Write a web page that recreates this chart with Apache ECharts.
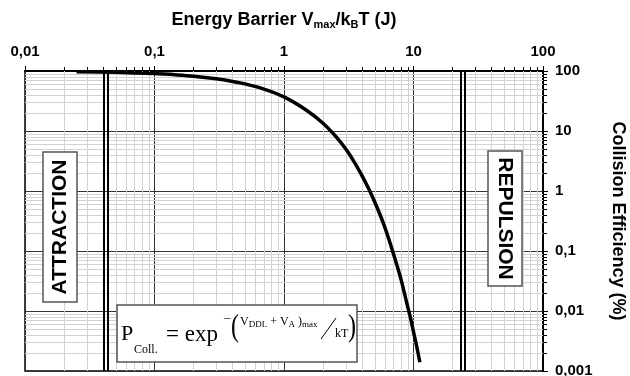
<!DOCTYPE html>
<html>
<head>
<meta charset="utf-8">
<script src="https://cdn.jsdelivr.net/npm/echarts@6/dist/echarts.min.js"></script>
<style>
  html, body { margin: 0; padding: 0; background: #fff; }
  #chart { width: 630px; height: 376px; }
</style>
</head>
<body>
<div id="chart"></div>
<script>
// energy barrier (x, log) vs collision efficiency in % (y, log)
var energyBarrier = [0.025, 0.05, 0.1, 0.15, 0.2, 0.3, 0.4, 0.5, 0.7, 1, 1.5, 2, 2.5, 3, 3.5, 4, 4.5,
  5, 5.5, 6, 6.5, 7, 7.5, 8, 8.5, 9, 9.5, 10, 10.5, 11.2];
var collisionEff = [97.5, 95, 90.5, 86, 82, 74, 67, 61, 50, 37, 22, 13.5, 8.2, 5, 3, 1.8, 1.1,
  0.67, 0.41, 0.25, 0.15, 0.09, 0.055, 0.034, 0.02, 0.012, 0.0075, 0.0045, 0.0028, 0.0014];

// the two triple barrier lines (attraction / repulsion limits)
var barrierX = [0.042, 24];

var xTickLabels = ['0,01', '0,1', '1', '10', '100'];
var yTickLabels = ['0,001', '0,01', '0,1', '1', '10', '100'];

// minor grid positions 2..9 inside each decade
function minorValues(fromExp, toExp) {
  var out = [];
  for (var e = fromExp; e < toExp; e++) {
    for (var k = 2; k <= 9; k++) out.push(k * Math.pow(10, e));
  }
  return out;
}
var xMinor = minorValues(-2, 2);
var yMinor = minorValues(-3, 2);

function tickLabel(list, minExp) {
  return function (v) {
    var i = Math.round(Math.log10(v)) - minExp;
    return list[i] !== undefined ? list[i] : '';
  };
}

var chart = echarts.init(document.getElementById('chart'), null, { renderer: 'canvas' });

var axisFont = { fontFamily: 'Liberation Sans', fontWeight: 'bold', fontSize: 15, color: '#000' };

var option = {
  animation: false,
  backgroundColor: '#fff',
  grid: {
    left: 25, right: 87, top: 71, bottom: 5,
    containLabel: false, outerBoundsMode: 'none',
    show: true, borderColor: '#000', borderWidth: 1.5
  },
  xAxis: {
    type: 'log', logBase: 10, position: 'top', min: 0.01, max: 100,
    name: 'Energy Barrier V{sub|max}/k{sub|B}T (J)',
    nameLocation: 'middle', nameGap: 41,
    nameTextStyle: {
      fontFamily: 'Liberation Sans', fontWeight: 'bold', fontSize: 18, color: '#000',
      rich: { sub: { fontFamily: 'Liberation Sans', fontWeight: 'bold', fontSize: 11, padding: [9, 0, 0, 0] } }
    },
    axisLine: { show: true, onZero: false, lineStyle: { color: '#000', width: 2 } },
    axisTick: { show: true, inside: false, length: 5, lineStyle: { color: '#000', width: 1 } },
    axisLabel: Object.assign({ margin: 12, formatter: tickLabel(xTickLabels, -2) }, axisFont),
    splitLine: { show: true, lineStyle: { color: '#333', width: 1 } }
  },
  yAxis: {
    type: 'log', logBase: 10, position: 'right', min: 0.001, max: 100,
    name: 'Collision Efficiency (%)',
    nameLocation: 'middle', nameGap: 66, nameRotate: -90,
    nameTextStyle: { fontFamily: 'Liberation Sans', fontWeight: 'bold', fontSize: 18, color: '#000' },
    axisLine: { show: true, onZero: false, lineStyle: { color: '#000', width: 2 } },
    axisTick: { show: true, inside: false, length: 5, lineStyle: { color: '#000', width: 1 } },
    axisLabel: Object.assign({ margin: 12, formatter: tickLabel(yTickLabels, -3) }, axisFont),
    splitLine: { show: true, lineStyle: { color: '#333', width: 1 } }
  },
  series: [
    {
      // vertical minor gridlines + outward minor ticks on the top axis
      type: 'custom', z: 1, clip: false, silent: true,
      data: xMinor.map(function (v) { return [v, 1]; }),
      renderItem: function (params, api) {
        var p = api.coord([api.value(0), 1]);
        var cs = params.coordSys;
        var x = Math.round(p[0]) + 0.5;
        return { type: 'group', children: [
          { type: 'line', shape: { x1: x, y1: cs.y, x2: x, y2: cs.y + cs.height }, style: { stroke: '#d2d2d2', lineWidth: 1 } },
          { type: 'line', shape: { x1: x, y1: cs.y - 4, x2: x, y2: cs.y }, style: { stroke: '#000', lineWidth: 1 } }
        ] };
      }
    },
    {
      // horizontal minor gridlines + outward minor ticks on the right axis
      type: 'custom', z: 1, clip: false, silent: true,
      data: yMinor.map(function (v) { return [1, v]; }),
      renderItem: function (params, api) {
        var p = api.coord([1, api.value(1)]);
        var cs = params.coordSys;
        var y = Math.round(p[1]) + 0.5;
        return { type: 'group', children: [
          { type: 'line', shape: { x1: cs.x, y1: y, x2: cs.x + cs.width, y2: y }, style: { stroke: '#d2d2d2', lineWidth: 1 } },
          { type: 'line', shape: { x1: cs.x + cs.width, y1: y, x2: cs.x + cs.width + 4, y2: y }, style: { stroke: '#000', lineWidth: 1 } }
        ] };
      }
    },
    {
      // double vertical barrier lines
      type: 'custom', z: 3, clip: false, silent: true,
      data: barrierX.map(function (v) { return [v, 1]; }),
      renderItem: function (params, api) {
        var p = api.coord([api.value(0), 1]);
        var cs = params.coordSys;
        var x = Math.round(p[0]);
        return { type: 'group', children: [
          { type: 'line', shape: { x1: x - 2, y1: cs.y, x2: x - 2, y2: cs.y + cs.height }, style: { stroke: '#000', lineWidth: 2 } },
          { type: 'line', shape: { x1: x + 2, y1: cs.y, x2: x + 2, y2: cs.y + cs.height }, style: { stroke: '#000', lineWidth: 2 } }
        ] };
      }
    },
    {
      type: 'line', z: 5,
      data: energyBarrier.map(function (x, i) { return [x, collisionEff[i]]; }),
      smooth: 0.3, showSymbol: false, symbol: 'none',
      lineStyle: { color: '#000', width: 3.5 }
    }
  ],
  graphic: [
    // ATTRACTION box
    { type: 'rect', z: 50, shape: { x: 43, y: 152, width: 34, height: 150 },
      style: { fill: '#fff', stroke: '#555', lineWidth: 1.5 } },
    { type: 'text', z: 51, x: 60, y: 227, rotation: Math.PI / 2,
      style: { text: 'ATTRACTION', font: 'bold 21px "Liberation Sans"', fill: '#000', align: 'center', verticalAlign: 'middle' } },
    // REPULSION box
    { type: 'rect', z: 50, shape: { x: 488, y: 151, width: 34, height: 135 },
      style: { fill: '#fff', stroke: '#555', lineWidth: 1.5 } },
    { type: 'text', z: 51, x: 505, y: 218.5, rotation: -Math.PI / 2,
      style: { text: 'REPULSION', font: 'bold 21px "Liberation Sans"', fill: '#000', align: 'center', verticalAlign: 'middle' } },
    // formula box
    { type: 'rect', z: 50, shape: { x: 117, y: 305, width: 240, height: 57 },
      style: { fill: '#fff', stroke: '#555', lineWidth: 1.5 } },
    { type: 'text', z: 51, x: 121, y: 334.5,
      style: { text: 'P', font: '22px "Liberation Serif"', fill: '#000', verticalAlign: 'middle' } },
    { type: 'text', z: 51, x: 134, y: 350,
      style: { text: 'Coll.', font: '12px "Liberation Serif"', fill: '#000', verticalAlign: 'middle' } },
    { type: 'text', z: 51, x: 166, y: 335,
      style: { text: '= exp', font: '23px "Liberation Serif"', fill: '#000', verticalAlign: 'middle' } },
    { type: 'text', z: 51, x: 224, y: 318,
      style: { text: '\u2013', font: '13px "Liberation Serif"', fill: '#000', verticalAlign: 'middle' } },
    { type: 'text', z: 51, x: 231, y: 327.5, scaleX: 0.75,
      style: { text: '(', font: '32px "Liberation Serif"', fill: '#000', verticalAlign: 'middle' } },
    { type: 'text', z: 51, x: 240, y: 322,
      style: {
        text: 'V{s|DDL} + V{s|A} ){s|max}', font: '12px "Liberation Serif"', fill: '#000', verticalAlign: 'middle',
        rich: { s: { font: '9px "Liberation Serif"', fill: '#000', padding: [6, 0, 0, 0] } }
      } },
    { type: 'line', z: 51, shape: { x1: 321, y1: 339, x2: 336, y2: 318 }, style: { stroke: '#000', lineWidth: 1 } },
    { type: 'text', z: 51, x: 335, y: 334,
      style: { text: 'kT', font: '12px "Liberation Serif"', fill: '#000', verticalAlign: 'middle' } },
    { type: 'text', z: 51, x: 348, y: 327.5, scaleX: 0.75,
      style: { text: ')', font: '32px "Liberation Serif"', fill: '#000', verticalAlign: 'middle' } }
  ]
};

chart.setOption(option);
</script>
</body>
</html>
